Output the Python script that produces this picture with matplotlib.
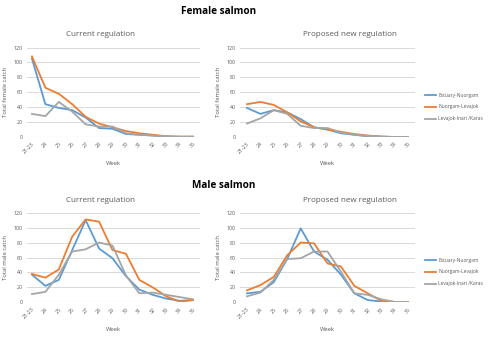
import matplotlib
matplotlib.use("Agg")
import matplotlib.pyplot as plt

weeks = ["21-23", "24", "25", "26", "27", "28", "29", "30", "31", "32", "33", "34", "35"]
series_names = ["Estuary-Nuorgam", "Nuorgam-Levajok", "Levajok-Inari /Karas"]
colors = ["#5B9BD5", "#ED7D31", "#A5A5A5"]

female_current_estuary = [105, 44, 39, 36, 26, 12, 11, 4, 3, 2, 0.5, 0, 0]
female_current_nuorgam = [108, 66, 58, 44, 27, 18, 13, 8, 5, 3, 1, 0.5, 0.5]
female_current_levajok = [31, 28, 47, 34, 17, 14, 14, 5, 3, 2, 1, 0.5, 0.5]

female_proposed_estuary = [39, 31, 36, 33, 24, 13, 10, 5, 3, 1, 0.5, 0, 0]
female_proposed_nuorgam = [44, 47, 43, 33, 21, 13, 10, 7, 4, 2, 0.5, 0, 0]
female_proposed_levajok = [18, 25, 36, 31, 15, 12, 12, 6, 3, 1.5, 0.5, 0, 0]

male_current_estuary = [37, 22, 30, 70, 110, 72, 59, 35, 17, 10, 5, 2, 3]
male_current_nuorgam = [38, 33, 44, 88, 111, 108, 70, 65, 30, 20, 8, 1, 3]
male_current_levajok = [11, 14, 37, 68, 71, 80, 76, 36, 12, 13, 10, 7, 4]

male_proposed_estuary = [12, 14, 27, 58, 99, 68, 57, 37, 12, 3, 1, 0.5, 0]
male_proposed_nuorgam = [16, 23, 34, 63, 80, 79, 52, 48, 22, 12, 2, 0.5, 0]
male_proposed_levajok = [8, 13, 30, 58, 59, 68, 68, 41, 12, 10, 4, 0.5, 0]

W, H = 500, 342
fig = plt.figure(figsize=(W / 100, H / 100), dpi=100)
plt.rcParams['font.family'] = ['Open Sans', 'DejaVu Sans']

def rect(x0, x1, ytop, ybot):
    return [x0 / W, 1 - ybot / H, (x1 - x0) / W, (ybot - ytop) / H]

def draw(ax, data, xlim, ylabel):
    x = list(range(len(weeks)))
    for vals, c, n in zip(data, colors, series_names):
        ax.plot(x, vals, color=c, lw=1.3, label=n, solid_joinstyle='round')
    ax.set_ylim(0, 120)
    ax.set_xlim(*xlim)
    ax.set_yticks(range(0, 121, 20))
    ax.set_xticks(x)
    ax.set_xticklabels(weeks, rotation=45, ha='right', rotation_mode='anchor')
    ax.tick_params(axis='both', length=0, labelsize=3.8, colors='#595959', pad=3)
    ax.grid(axis='y', color='#D9D9D9', lw=0.7)
    ax.set_axisbelow(True)
    for s in ax.spines.values():
        s.set_visible(False)
    ax.axhline(0, color='#D9D9D9', lw=0.8, zorder=0)
    ax.set_ylabel(ylabel, fontsize=4.2, color='#595959', labelpad=4)
    ax.set_xlabel("Week", fontsize=4.2, color='#595959', labelpad=5)

# Female
ax1 = fig.add_axes(rect(27, 200, 47.5, 137))
draw(ax1, [female_current_estuary, female_current_nuorgam, female_current_levajok], (-0.37, 12.52), "Total female catch")
ax2 = fig.add_axes(rect(240, 415, 47.5, 137))
draw(ax2, [female_proposed_estuary, female_proposed_nuorgam, female_proposed_levajok], (-0.52, 12.52), "Total female catch")

# Male
ax3 = fig.add_axes(rect(27, 200, 212.7, 302.3))
draw(ax3, [male_current_estuary, male_current_nuorgam, male_current_levajok], (-0.37, 12.52), "Total male catch")
ax4 = fig.add_axes(rect(240, 415, 212.7, 302.3))
draw(ax4, [male_proposed_estuary, male_proposed_nuorgam, male_proposed_levajok], (-0.52, 12.52), "Total male catch")

def ftext(px, py, s, **kw):
    fig.text(px / W, 1 - py / H, s, ha='center', va='center', **kw)

ftext(219, 11, "Female salmon", fontsize=7.2, fontweight='bold', color='black')
ftext(224, 186, "Male salmon", fontsize=7.2, fontweight='bold', color='black')
ftext(101, 34, "Current regulation", fontsize=5.8, color='#595959')
ftext(350, 34, "Proposed new regulation", fontsize=5.8, color='#595959')
ftext(101, 200, "Current regulation", fontsize=5.8, color='#595959')
ftext(350, 200, "Proposed new regulation", fontsize=5.8, color='#595959')

for ax, ycen in [(ax2, 107), (ax4, 272)]:
    h, l = ax.get_legend_handles_labels()
    fig.legend(h, l, loc='center left', bbox_to_anchor=(425 / W, 1 - ycen / H),
               frameon=False, fontsize=3.5, handlelength=2.2, handletextpad=0.5,
               labelspacing=1.4, labelcolor='#595959', borderaxespad=0,
               borderpad=0)

fig.savefig("out.png", dpi=100, facecolor='white')
